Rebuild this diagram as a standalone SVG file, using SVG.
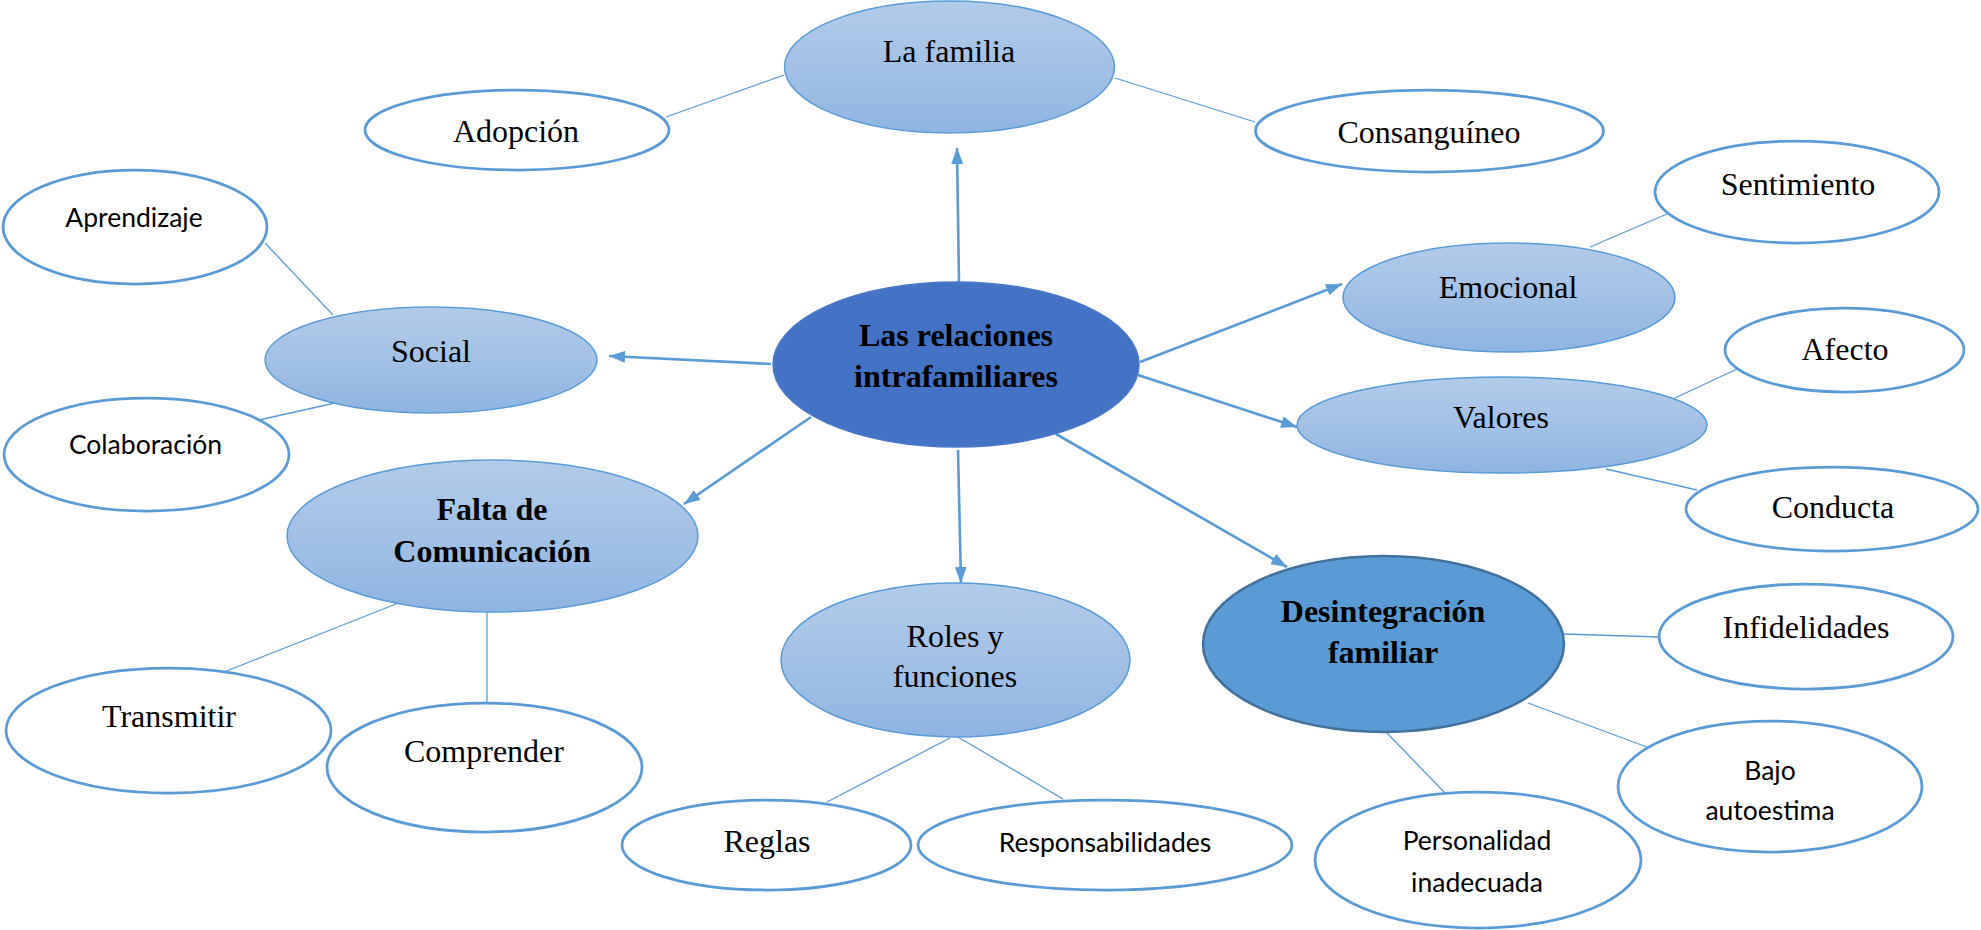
<svg xmlns="http://www.w3.org/2000/svg" width="1981" height="930" viewBox="0 0 1981 930">
<defs>
<linearGradient id="lb" x1="0" y1="0" x2="0" y2="1">
<stop offset="0" stop-color="#B1CBE9"/>
<stop offset="0.5" stop-color="#A3C1E6"/>
<stop offset="1" stop-color="#8EB4E1"/>
</linearGradient>
<marker id="ah" viewBox="0 0 16 12" refX="16" refY="6" markerWidth="16" markerHeight="12" markerUnits="userSpaceOnUse" orient="auto">
<path d="M0,0 L16,6 L0,12 z" fill="#5B9BD5"/>
</marker>
<style>
.lb{fill:url(#lb);stroke:#5B9BD5;stroke-width:1.5}
.wh{fill:#FFFFFF;stroke:#5B9BD5;stroke-width:2.75}
.ct{fill:#4472C4;stroke:#4A78C8;stroke-width:1.5}
.dz{fill:#5B9BD5;stroke:#41719C;stroke-width:2.5}
.sf{font-family:"Liberation Serif","Times New Roman",serif;font-size:32px;fill:#000;text-anchor:middle}
.sb{font-family:"Liberation Serif","Times New Roman",serif;font-size:32px;font-weight:bold;fill:#000;text-anchor:middle}
.ss{font-family:Lato,"Liberation Sans",sans-serif;font-size:26.5px;fill:#000;text-anchor:middle}
.ln{stroke:#5B9BD5;stroke-width:1.3;fill:none}
.ar{stroke:#5B9BD5;stroke-width:2.6;fill:none;marker-end:url(#ah)}
</style>
</defs>
<rect width="1981" height="930" fill="#FFFFFF"/>
<g id="connectors">
<line class="ln" x1="666" y1="117" x2="784" y2="75"/>
<line class="ln" x1="1115" y1="78" x2="1255" y2="122"/>
<line class="ln" x1="265" y1="243" x2="333" y2="315"/>
<line class="ln" x1="259" y1="420" x2="335" y2="403"/>
<line class="ln" x1="1590" y1="247" x2="1667" y2="214"/>
<line class="ln" x1="1675" y1="398" x2="1737" y2="369"/>
<line class="ln" x1="1606" y1="469" x2="1697" y2="490"/>
<line class="ln" x1="401" y1="602" x2="224" y2="672"/>
<line class="ln" x1="487" y1="612" x2="487" y2="703"/>
<line class="ln" x1="950" y1="738" x2="827" y2="802"/>
<line class="ln" x1="958" y1="737" x2="1063" y2="799"/>
<line class="ln" x1="1564" y1="634" x2="1659" y2="637"/>
<line class="ln" x1="1528" y1="703" x2="1647" y2="747"/>
<line class="ln" x1="1386" y1="732" x2="1445" y2="793"/>
<line class="ar" x1="959" y1="283" x2="957" y2="148"/>
<line class="ar" x1="771" y1="364" x2="609" y2="356"/>
<line class="ar" x1="1140" y1="362" x2="1342" y2="284"/>
<line class="ar" x1="1138" y1="375" x2="1297" y2="427"/>
<line class="ar" x1="811" y1="417" x2="684" y2="504"/>
<line class="ar" x1="958" y1="450" x2="961" y2="583"/>
<line class="ar" x1="1056" y1="434" x2="1287" y2="567"/>
</g>
<g id="n-familia"><ellipse class="lb" cx="949.5" cy="67" rx="165" ry="66"/><text class="sf" x="949" y="62">La familia</text></g>
<g id="n-adopcion"><ellipse class="wh" cx="517" cy="130" rx="152" ry="40"/><text class="sf" x="516" y="142">Adopción</text></g>
<g id="n-consanguineo"><ellipse class="wh" cx="1429.5" cy="131" rx="174" ry="41"/><text class="sf" x="1429" y="143">Consanguíneo</text></g>
<g id="n-aprendizaje"><ellipse class="wh" cx="135" cy="227" rx="132" ry="57"/><text class="ss" x="134" y="227">Aprendizaje</text></g>
<g id="n-social"><ellipse class="lb" cx="431" cy="360" rx="166" ry="53"/><text class="sf" x="431" y="362">Social</text></g>
<g id="n-colaboracion"><ellipse class="wh" cx="146.5" cy="454.5" rx="142.5" ry="56.5"/><text class="ss" x="145.5" y="454">Colaboración</text></g>
<g id="n-central"><ellipse class="ct" cx="956" cy="364.5" rx="183" ry="82.5"/><text class="sb" x="956" y="346">Las relaciones</text><text class="sb" x="956" y="387">intrafamiliares</text></g>
<g id="n-emocional"><ellipse class="lb" cx="1509" cy="297.5" rx="166" ry="54.5"/><text class="sf" x="1508" y="298">Emocional</text></g>
<g id="n-sentimiento"><ellipse class="wh" cx="1797" cy="192" rx="142" ry="51"/><text class="sf" x="1798" y="195">Sentimiento</text></g>
<g id="n-afecto"><ellipse class="wh" cx="1844.5" cy="350" rx="119.5" ry="42"/><text class="sf" x="1845" y="360">Afecto</text></g>
<g id="n-valores"><ellipse class="lb" cx="1502" cy="425" rx="205" ry="48"/><text class="sf" x="1501" y="428">Valores</text></g>
<g id="n-conducta"><ellipse class="wh" cx="1832" cy="509" rx="146" ry="42"/><text class="sf" x="1833" y="518">Conducta</text></g>
<g id="n-falta"><ellipse class="lb" cx="492.5" cy="536" rx="205.5" ry="76"/><text class="sb" x="492" y="520">Falta de</text><text class="sb" x="492" y="562">Comunicación</text></g>
<g id="n-transmitir"><ellipse class="wh" cx="168.5" cy="730.5" rx="162.5" ry="62.5"/><text class="sf" x="169" y="727">Transmitir</text></g>
<g id="n-comprender"><ellipse class="wh" cx="484.5" cy="767.5" rx="157.5" ry="64.5"/><text class="sf" x="484" y="762">Comprender</text></g>
<g id="n-roles"><ellipse class="lb" cx="955.5" cy="660" rx="174.5" ry="77"/><text class="sf" x="955" y="647">Roles y</text><text class="sf" x="955" y="687">funciones</text></g>
<g id="n-reglas"><ellipse class="wh" cx="766.5" cy="845" rx="144.5" ry="45"/><text class="sf" x="767" y="852">Reglas</text></g>
<g id="n-responsabilidades"><ellipse class="wh" cx="1105" cy="845" rx="187" ry="45"/><text class="ss" x="1105" y="852">Responsabilidades</text></g>
<g id="n-desintegracion"><ellipse class="dz" cx="1383.5" cy="644" rx="180.5" ry="88"/><text class="sb" x="1383" y="622">Desintegración</text><text class="sb" x="1383" y="663">familiar</text></g>
<g id="n-infidelidades"><ellipse class="wh" cx="1806" cy="636.5" rx="147" ry="52.5"/><text class="sf" x="1806" y="638">Infidelidades</text></g>
<g id="n-bajo"><ellipse class="wh" cx="1770" cy="786.5" rx="152" ry="65.5"/><text class="ss" x="1770" y="780">Bajo</text><text class="ss" x="1770" y="820">autoestima</text></g>
<g id="n-personalidad"><ellipse class="wh" cx="1478" cy="860" rx="163" ry="68"/><text class="ss" x="1477" y="850">Personalidad</text><text class="ss" x="1477" y="892">inadecuada</text></g>
</svg>
